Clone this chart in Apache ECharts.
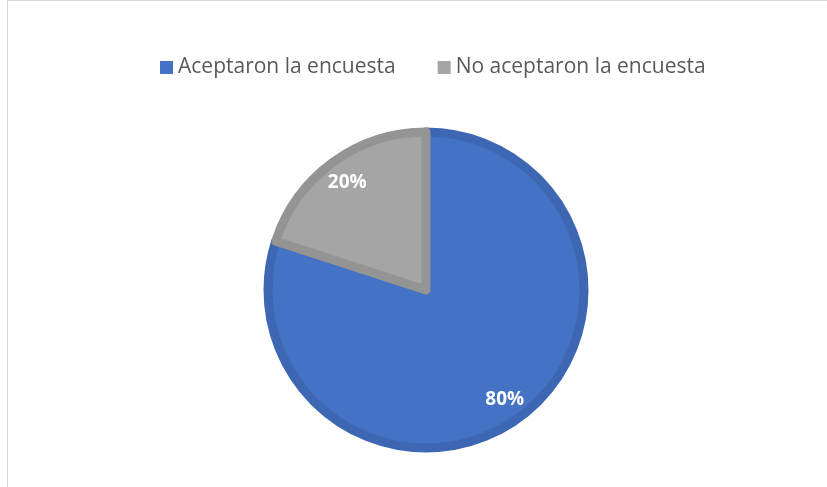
<!DOCTYPE html>
<html>
<head>
<meta charset="utf-8">
<script src="https://cdn.jsdelivr.net/npm/echarts@6/dist/echarts.min.js"></script>
<style>
  html, body { margin: 0; padding: 0; background: #ffffff; }
  #wrap { position: relative; width: 827px; height: 487px; overflow: hidden; }
  #frame { position: absolute; left: 7px; top: 0px; width: 900px; height: 600px;
           border-left: 1px solid #d9d9d9; border-top: 1px solid #d9d9d9; box-sizing: border-box; }
  #chart { position: absolute; left: 0; top: 0; width: 827px; height: 487px; }
</style>
</head>
<body>
<div id="wrap">
  <div id="frame"></div>
  <div id="chart"></div>
</div>
<script>
const categories = ['Aceptaron la encuesta', 'No aceptaron la encuesta'];
const values = [80, 20];
const fillColors = ['#4472C4', '#A5A5A5'];
const borderColors = ['#3E67B3', '#949494'];

const chart = echarts.init(document.getElementById('chart'), null, { renderer: 'canvas' });

const pieData = categories.map((name, i) => ({
  name: name,
  value: values[i],
  itemStyle: { color: fillColors[i], borderColor: borderColors[i], borderWidth: 9 }
}));

const labelData = categories.map((name, i) => ({ name: name, value: values[i] }));

const fontFam = '"Open Sans", "Noto Sans", sans-serif';

chart.setOption({
  animation: false,
  backgroundColor: 'transparent',
  legend: {
    top: 52,
    left: 155,
    icon: 'rect',
    itemWidth: 13,
    itemHeight: 13,
    itemGap: 42,
    data: categories,
    itemStyle: { borderWidth: 0 },
    textStyle: { color: '#595959', fontSize: 21, fontFamily: fontFam }
  },
  series: [
    {
      type: 'pie',
      center: [426, 290],
      radius: 158,
      startAngle: 90,
      clockwise: true,
      label: { show: false },
      labelLine: { show: false },
      data: pieData
    },
    {
      type: 'pie',
      center: [426, 291],
      radius: [102, 160],
      startAngle: 90,
      clockwise: true,
      silent: true,
      legendHoverLink: false,
      itemStyle: { color: 'rgba(0,0,0,0)', borderWidth: 0 },
      label: {
        show: true,
        position: 'inside',
        formatter: p => p.value + '%',
        color: '#ffffff',
        fontSize: 19,
        fontWeight: 'bold',
        fontFamily: fontFam
      },
      labelLine: { show: false },
      data: labelData
    }
  ]
});
</script>
</body>
</html>
